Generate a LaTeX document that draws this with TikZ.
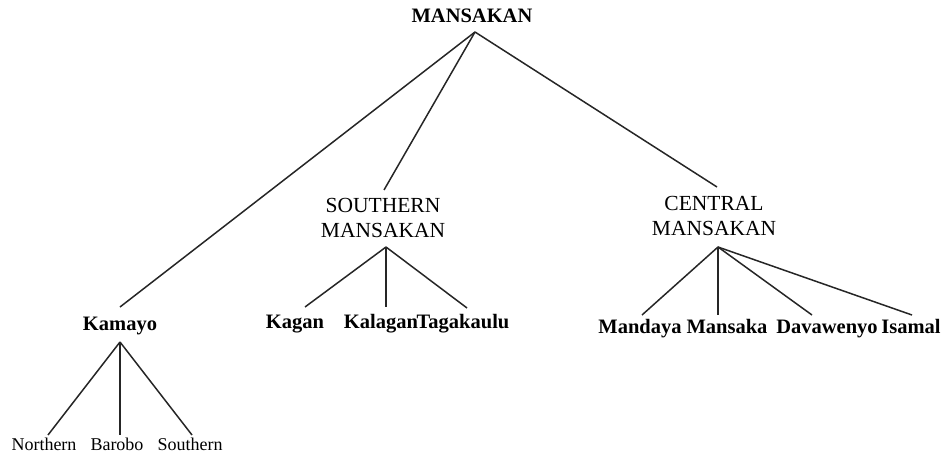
\documentclass[tikz,border=0pt]{standalone}
\usepackage{fontspec}
\setmainfont{Liberation Serif}
\begin{document}
\begin{tikzpicture}[x=1pt,y=-1pt,
  bl/.style={font=\fontsize{20.5}{24}\selectfont\bfseries, inner sep=0, anchor=base},
  capt/.style={font=\fontsize{21.5}{25}\selectfont, inner sep=0, align=center, anchor=base},
  smlab/.style={font=\fontsize{18}{20}\selectfont, inner sep=0, anchor=base},
  conn/.style={line width=1.5pt, black!85}]
\useasboundingbox (0,0) rectangle (945,455);
% nodes
\node[bl] (mans) at (472,22) {MANSAKAN};
\node[bl] (kam) at (120,330) {Kamayo};
\node[smlab] (nor) at (44,450) {Northern};
\node[smlab] (bar) at (117,450) {Barobo};
\node[smlab] (sou) at (190,450) {Southern};
\node[capt] (sm1) at (383,212) {SOUTHERN};
\node[capt] (sm2) at (383,237) {MANSAKAN};
\node[capt] (cm1) at (714,210) {CENTRAL};
\node[capt] (cm2) at (714,235) {MANSAKAN};
\node[bl] (kag) at (295,328) {Kagan};
\node[bl] (kal) at (381,328) {Kalagan};
\node[bl] (tag) at (463,328) {Tagakaulu};
\node[bl] (mnd) at (640,333) {Mandaya};
\node[bl] (mns) at (727,333) {Mansaka};
\node[bl] (dav) at (827,333) {Davawenyo};
\node[bl] (isa) at (911,333) {Isamal};
% connectors
\draw[conn] ([shift={(3pt,-10pt)}]mans.base) -- ([shift={(0pt,23pt)}]kam.base);
\draw[conn] ([shift={(3pt,-10pt)}]mans.base) -- ([shift={(1pt,22pt)}]sm1.base);
\draw[conn] ([shift={(3pt,-10pt)}]mans.base) -- ([shift={(3pt,23pt)}]cm1.base);
\draw[conn] ([shift={(0pt,-12pt)}]kam.base) -- ([shift={(4pt,15pt)}]nor.base);
\draw[conn] ([shift={(0pt,-12pt)}]kam.base) -- ([shift={(3pt,15pt)}]bar.base);
\draw[conn] ([shift={(0pt,-12pt)}]kam.base) -- ([shift={(2pt,15pt)}]sou.base);
\draw[conn] ([shift={(3pt,-10pt)}]sm2.base) -- ([shift={(10pt,21pt)}]kag.base);
\draw[conn] ([shift={(3pt,-10pt)}]sm2.base) -- ([shift={(5pt,21pt)}]kal.base);
\draw[conn] ([shift={(3pt,-10pt)}]sm2.base) -- ([shift={(4pt,20pt)}]tag.base);
\draw[conn] ([shift={(4pt,-12pt)}]cm2.base) -- ([shift={(2pt,18pt)}]mnd.base);
\draw[conn] ([shift={(4pt,-12pt)}]cm2.base) -- ([shift={(-9pt,18pt)}]mns.base);
\draw[conn] ([shift={(4pt,-12pt)}]cm2.base) -- ([shift={(-15pt,18pt)}]dav.base);
\draw[conn] ([shift={(4pt,-12pt)}]cm2.base) -- ([shift={(1pt,18pt)}]isa.base);
\end{tikzpicture}
\end{document}
